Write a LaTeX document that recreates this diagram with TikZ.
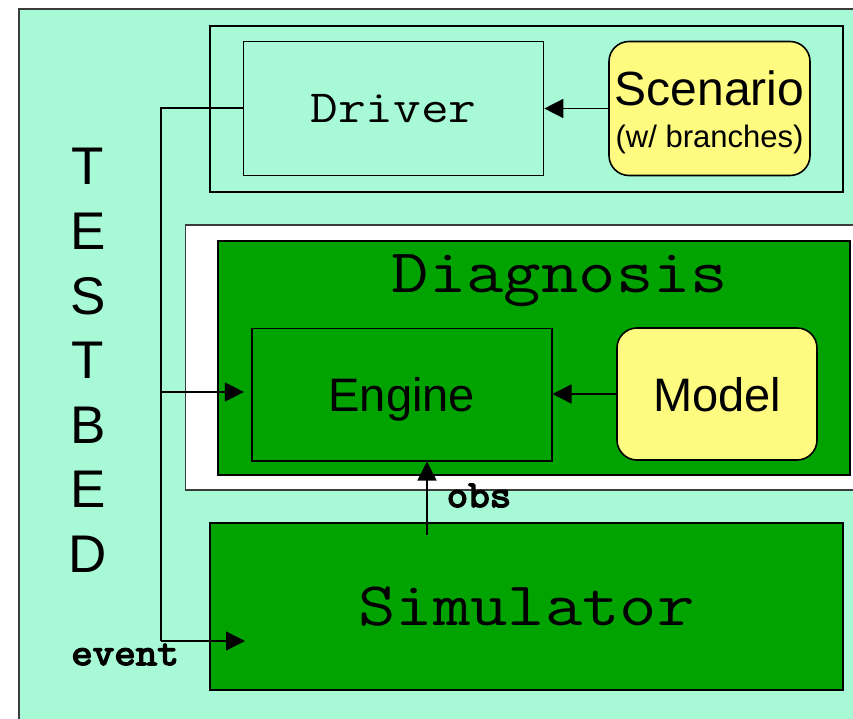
\documentclass[tikz,border=0pt]{standalone}
\usepackage{fontspec}
\setmainfont{Liberation Sans}
\newfontfamily\codefont[FakeStretch=1.17]{Latin Modern Mono}
\newfontfamily\codeboldfont[FakeStretch=1.1, FakeBold=4]{Latin Modern Mono}
\usetikzlibrary{arrows.meta}
\definecolor{mint}{RGB}{168,250,214}
\definecolor{blockgreen}{RGB}{0,163,0}
\definecolor{noteyellow}{RGB}{255,250,128}
\definecolor{framegray}{RGB}{60,60,60}

\tikzset{
  block/.style={draw=black, line width=1.6pt, rectangle, inner sep=0pt, text depth=0pt},
  mintblock/.style={block, fill=mint},
  greenblock/.style={block, fill=blockgreen},
  noteblock/.style={block, fill=noteyellow, rounded corners=20pt},
  codelabel/.style={font=\codefont\fontsize{#1}{#1}\selectfont},
  sanslabel/.style={font=\fontsize{#1}{#1}\selectfont},
  tag/.style={font=\codeboldfont\fontsize{38}{38}\selectfont, anchor=base, inner sep=0pt},
  letter/.style={font=\fontsize{53}{53}\selectfont, anchor=base, inner sep=0pt},
  link/.style={line width=1.4pt},
  flow/.style={link, -{Triangle[length=19pt,width=19pt]}}
}

\begin{document}
\begin{tikzpicture}[x=1pt, y=-1pt]
\useasboundingbox (0,0) rectangle (853,719);
\clip (0,0) rectangle (853,719);

% testbed area
\draw[framegray, fill=mint, line width=1.2pt] (19,9) rectangle (900,760);

% vertical TESTBED caption
\foreach \ch [count=\i] in {T,E,S,T,B,E,D}
  \node[letter] (tb\i) at (88, {185 + (\i-1)*64.5}) {\ch};

% driver frame
\node[mintblock, minimum width=633pt, minimum height=166pt] (driverframe) at (526.5,108.8) {};
\node[mintblock, codelabel=46, minimum width=300pt, minimum height=134pt] (driver) at (393.5,108.5) {Driver};
\node[noteblock, minimum width=201pt, minimum height=134pt] (scenario) at (709.5,108.5) {};
\node[sanslabel=48, anchor=base, inner sep=0pt] (scentitle) at (709.5,106) {Scenario};
\node[sanslabel=31, anchor=base, inner sep=0pt] (scensub) at (709.5,148) {(w/ branches)};

% diagnosis
\draw[framegray, fill=white, line width=1.5pt] (185.7,225) rectangle (900,490);
\node[greenblock, minimum width=632pt, minimum height=234pt] (diagnosis) at (534,358) {};
\node[codelabel=62, anchor=base, inner sep=0pt] (diagtitle) at (560,292) {Diagnosis};
\node[greenblock, sanslabel=47, minimum width=300pt, minimum height=132.4pt] (engine) at (401.7,394.5) {Engine};
\node[noteblock, sanslabel=47, minimum width=200pt, minimum height=132pt, text depth=0pt] (model) at (717,394) {Model};

% simulator
\node[greenblock, codelabel=62, minimum width=633pt, minimum height=167pt] (simulator) at (526.5,606.5) {Simulator};

% connectors
\coordinate (bustop) at (161,108);
\coordinate (busmid) at (161,392);
\coordinate (busend) at (161,641);
\coordinate (eventtip) at (245,641);
\coordinate (obsfoot) at (427,535);

\draw[flow] (scenario.west |- driver.east) -- (driver.east);
\draw[link] (driver.west |- bustop) -- (bustop) -- (busend);
\draw[flow] (busend) -- (eventtip);
\draw[flow, shorten >=7pt] (busmid) -- (busmid -| engine.west);
\draw[flow] (model.west) -- (model.west -| engine.east);
\draw[flow] (obsfoot) -- (obsfoot |- engine.south);

\node[tag] (eventlbl) at (125,665) {event};
\node[tag] (obslbl) at (479,507) {obs};
\end{tikzpicture}
\end{document}
